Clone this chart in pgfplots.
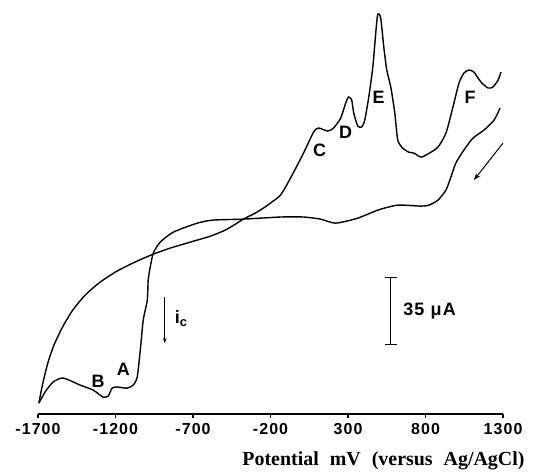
\documentclass[border=0pt]{standalone}
\usepackage{fontspec}
\setmainfont{Liberation Sans}
\newfontfamily\spaced[LetterSpace=7]{Liberation Sans}
\newfontfamily\serifbf{Liberation Serif}
\usepackage{pgfplots}
\pgfplotsset{compat=1.18}
\usetikzlibrary{arrows.meta}

% current in uA, potential in mV
\newcommand{\lab}{\fontsize{18}{18}\selectfont\spaced\bfseries}

\begin{document}
\begin{tikzpicture}
\begin{axis}[
    name=ax,
    scale only axis,
    width=465bp, height=402bp,
    xmin=-1700, xmax=1300,
    ymin=-1, ymax=209,
    axis x line=bottom,
    axis y line=none,
    x axis line style={-, line width=1.5bp},
    xtick={-1700,-1200,-700,-200,300,800,1300},
    xticklabels={-1700,-1200,-700,-200,300,800,1300},
    ytick=\empty,
    tick align=outside,
    major tick length=4bp,
    xtick style={line width=1.2bp, black},
    xticklabel style={font=\fontsize{16}{18}\selectfont\spaced\bfseries, yshift=-2bp},
    xlabel={Potential\hspace{11bp}mV\hspace{11bp}(versus\hspace{11bp}Ag/AgCl)},
    xlabel style={at={(rel axis cs:1,0)}, anchor=base east, xshift=25bp, yshift=-51bp,
        font=\fontsize{20}{24}\selectfont\serifbf\bfseries},
    clip=false,
]
% anodic scan, -1700 -> 1200
\addplot[black, line width=1.4bp, smooth, tension=0.4] coordinates {
    (-1694,4.7)(-1681,10.4)(-1661,17.8)(-1635,26.1)(-1597,35.0)(-1545,43.9)
    (-1480,52.8)(-1396,61.1)(-1299,67.9)(-1189,73.7)(-1060,78.9)(-956,82.5)
    (-846,85.7)(-717,88.8)(-588,91.9)(-491,95.1)(-426,98.2)(-375,100.8)
    (-297,104.0)(-245,106.6)(-200,109.2)(-135,113.4)(-71,122.2)(13,135.3)
    (78,146.3)(110,148.4)(169,146.8)(207,148.4)(253,153.6)(285,161.4)
    (304,164.6)(324,163.0)(337,156.2)(363,149.4)(388,148.9)(408,152.5)
    (434,164.6)(460,180.2)(479,198.0)(492,207.9)(511,205.8)(531,190.7)
    (550,178.7)(576,169.8)(602,156.2)(621,142.1)(653,137.9)(692,135.8)
    (725,135.3)(770,133.2)(815,134.8)(880,138.4)(932,145.8)(977,159.3)
    (1016,171.9)(1048,177.1)(1080,178.7)(1112,177.6)(1158,172.4)(1203,169.3)
    (1235,169.8)(1268,173.4)(1287,177.6)
};
% cathodic scan, 1200 -> -1700
\addplot[black, line width=1.4bp, smooth, tension=0.4] coordinates {
    (1281,158.8)(1242,152.5)(1177,147.3)(1106,143.1)(1048,136.9)(996,130.1)
    (964,122.8)(932,116.0)(880,110.7)(822,108.1)(770,107.6)(621,108.1)
    (492,105.5)(363,101.3)(220,98.7)(123,100.8)(13,101.9)(-135,101.9)
    (-375,100.8)(-569,100.3)(-672,98.7)(-827,94.0)(-911,88.8)(-956,83.1)
    (-976,75.7)(-989,69.0)(-995,58.5)(-1021,48.1)(-1040,32.4)(-1060,18.3)
    (-1086,14.1)(-1125,12.5)(-1189,13.1)(-1222,12.5)(-1247,8.4)(-1280,7.8)
    (-1344,11.5)(-1428,14.1)(-1538,17.8)(-1603,15.7)(-1655,10.4)(-1694,4.7)
};

% peak letters
\node[font=\lab] at (-1312,16.2) {B};
\node[font=\lab] at (-1150,22.5) {A};
\node[font=\lab] at (117,136.9) {C};
\node[font=\lab] at (285,146.3) {D};
\node[font=\lab] at (498,164.6) {E};
\node[font=\lab] at (1087,164.6) {F};

% scale bar
\draw[line width=1.2bp] (576,35.5) -- (576,70.5);
\draw[line width=1.2bp] (537,35.5) -- (615,35.5);
\draw[line width=1.2bp] (537,70.5) -- (615,70.5);
\node[anchor=west, font=\lab] at (634,52.8) {35 μA};

% cathodic current arrow
\draw[line width=0.9bp, -{Stealth[length=5bp,width=3.5bp]}] (-882,60) -- (-882,36);
\node[anchor=west, font=\lab] at (-840,49) {i\raisebox{-3bp}{\fontsize{13}{13}\selectfont c}};

% scan direction
\draw[line width=1bp, -{Stealth[length=7bp,width=5bp]}] (1300,140.5) -- (1112,121.2);
\end{axis}
\pgfresetboundingbox
\path ([xshift=-38bp,yshift=-59bp]ax.south west) rectangle ([xshift=33bp,yshift=12bp]ax.north east);
\end{tikzpicture}
\end{document}
